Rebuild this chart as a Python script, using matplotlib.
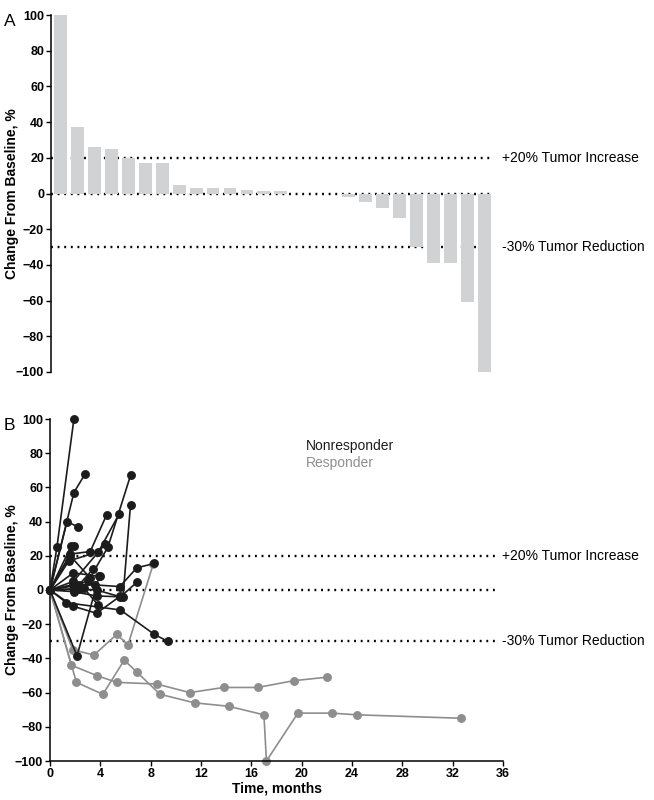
import matplotlib
matplotlib.use("Agg")
import matplotlib.pyplot as plt
import matplotlib.transforms as mtransforms

plt.rcParams['font.family'] = ['Liberation Sans', 'DejaVu Sans']

# panel A - best response per patient (waterfall)
best_change = [100, 37, 26, 25, 20, 17, 17, 5, 3, 3, 3, 2, 1.5, 1.5, 0, 0, 0,
               -2, -5, -8, -14, -30, -39, -39, -61, -100]

# panel B - change over time, (months, % change) per patient
nonresp_t = [
    [0, 0.55, 1.9],
    [0, 1.9, 2.8],
    [0, 1.35, 2.2],
    [0, 1.7, 1.9],
    [0, 1.6, 3.2, 4.5],
    [0, 1.5, 3.85, 5.5],
    [0, 3.0, 4.6, 6.4],
    [0, 1.85, 4.4],
    [0, 2.3, 3.45],
    [0, 1.85, 3.95],
    [0, 1.8, 3.55, 5.55, 6.9, 8.3],
    [0, 1.9, 3.7, 5.8, 6.4],
    [0, 2.3, 3.7, 5.6, 6.9],
    [0, 1.3, 5.6, 8.3, 9.35],
    [0, 1.85, 3.7, 5.6],
    [0, 2.7, 3.85],
    [0, 2.15, 3.9],
    [0, 1.6, 3.2],
]
nonresp_y = [
    [0, 25, 100],
    [0, 57, 68],
    [0, 40, 37],
    [0, 26, 26],
    [0, 21, 22.5, 44],
    [0, 17, 22.4, 44.5],
    [0, 5, 25, 67],
    [0, 5, 27],
    [0, 3, 12.5],
    [0, 10, 8],
    [0, 3, 3, 2, 13, 15.5],
    [0, -1, -3.5, -4, 50],
    [0, 0.5, 0, -4, 4.5],
    [0, -7.4, -11.7, -26, -30],
    [0, -9.5, -13.6, -3.5],
    [0, 1, -9],
    [0, -38.5, 8],
    [0, 20, 7],
]
resp_t = [
    [0, 1.8, 3.5, 5.3, 6.2, 8.2],
    [0, 1.7, 3.7, 5.3, 8.5, 11.1, 13.8, 16.5, 19.4, 22.0],
    [0, 2.1, 4.2, 5.9, 6.9, 8.75, 11.5, 14.2, 17.0, 17.2, 19.7, 22.4, 24.4, 32.7],
]
resp_y = [
    [0, -35, -38, -26, -32, 15],
    [0, -44, -50, -54, -55, -60, -57, -57, -53, -51],
    [0, -54, -61, -41, -48, -61, -66, -68, -73, -100, -72, -72, -73, -75],
]

thresholds = [20, 0, -30]
threshold_labels = {20: '+20% Tumor Increase', -30: '-30% Tumor Reduction'}

bar_color = '#d1d2d4'
black = '#1c1c1c'
grey = '#8e8e8e'

fig = plt.figure(figsize=(6.54, 8), dpi=100)
axA = fig.add_axes([51/654, 1-372/800, (493-51)/654, (372-15)/800])
axB = fig.add_axes([50/654, 1-761/800, (503-50)/654, (761-419)/800])

# ---- panel A
xs = list(range(len(best_change)))
axA.bar(xs, best_change, width=0.76, color=bar_color, zorder=2)
for t in thresholds:
    axA.axhline(t, color='black', lw=1.7, ls=(0, (0.8, 2.0)), zorder=1)
axA.set_xlim(-0.55, len(best_change) - 0.5)
axA.set_ylim(-100, 100)
axA.set_yticks(range(-100, 101, 20))
axA.set_xticks([])
for s in ['top', 'right', 'bottom']:
    axA.spines[s].set_visible(False)

# ---- panel B
for t in thresholds:
    axB.hlines(t, 0, 35.6, color='black', lw=1.7, ls=(0, (0.8, 2.0)), zorder=1)
for tt, yy in zip(resp_t, resp_y):
    axB.plot(tt, yy, color=grey, lw=1.2, marker='o', ms=5.4, zorder=2, clip_on=False)
for tt, yy in zip(nonresp_t, nonresp_y):
    axB.plot(tt, yy, color=black, lw=1.2, marker='o', ms=5.4, zorder=3, clip_on=False)
axB.set_xlim(0, 36)
axB.set_ylim(-100, 100)
axB.set_xticks(range(0, 37, 4))
axB.set_yticks(range(-100, 101, 20))
axB.set_xlabel('Time, months', fontsize=10, fontweight='bold', labelpad=1)
for s in ['top', 'right']:
    axB.spines[s].set_visible(False)
axB.text(20.3, 84, 'Nonresponder', color=black, fontsize=10, va='center')
axB.text(20.3, 74.5, 'Responder', color=grey, fontsize=10, va='center')

for ax, letter in [(axA, 'A'), (axB, 'B')]:
    ax.set_ylabel('Change From Baseline, %', fontsize=10, fontweight='bold')
    pos = ax.get_position()
    ax.yaxis.set_label_coords((19/654 - pos.x0) / pos.width, 0.5)
    ax.tick_params(direction='out', length=3.5, width=1, labelsize=9, pad=1.5)
    for lab in ax.get_xticklabels() + ax.get_yticklabels():
        lab.set_fontweight('bold')
    for s in ['left', 'bottom']:
        ax.spines[s].set_linewidth(1.1)
    trans = mtransforms.blended_transform_factory(fig.transFigure, ax.transData)
    for val, txt in threshold_labels.items():
        ax.text(502/654, val, txt, transform=trans, fontsize=10, va='center', ha='left')
    fig.text(4/654, pos.y1 + 0.001, letter, fontsize=12.5, va='top', ha='left')

fig.savefig('out.png', dpi=100)
